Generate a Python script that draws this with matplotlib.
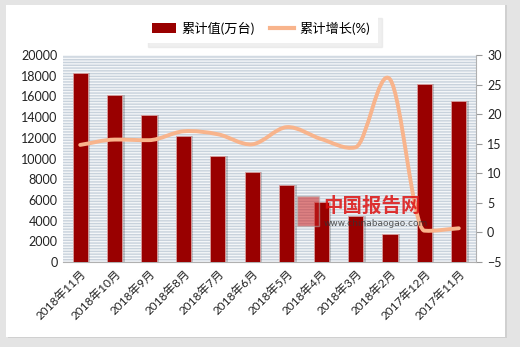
import matplotlib
matplotlib.use("Agg")
import matplotlib.pyplot as plt
from matplotlib.path import Path
from matplotlib.patches import PathPatch, Rectangle, Patch
from matplotlib.lines import Line2D
import numpy as np

plt.rcParams['font.family'] = ['Lato', 'Noto Sans CJK SC', 'DejaVu Sans']
plt.rcParams['hatch.linewidth'] = 1.0

# data
months = ['2018年11月', '2018年10月', '2018年9月', '2018年8月', '2018年7月', '2018年6月',
          '2018年5月', '2018年4月', '2018年3月', '2018年2月', '2017年12月', '2017年11月']
cum_value = [18250, 16150, 14200, 12150, 10250, 8700, 7400, 5800, 4400, 2700, 17150, 15550]
cum_growth = [14.8, 15.7, 15.6, 17.1, 16.6, 14.9, 17.8, 15.8, 14.4, 25.9, 0.3, 0.7]

bar_color = '#990000'
line_color = '#F8B48C'

fig = plt.figure(figsize=(5.2, 3.47), dpi=100)
fig.patch.set_facecolor('#e4e4e4')
# white card with a soft edge
fig.add_artist(Rectangle((8 / 520, 9 / 347), 499 / 520, 333 / 347, transform=fig.transFigure,
                         facecolor='#d0d0d0', edgecolor='none', zorder=0))
fig.add_artist(Rectangle((6 / 520, 10 / 347), 499 / 520, 332 / 347, transform=fig.transFigure,
                         facecolor='white', edgecolor='none', zorder=0))

ax = fig.add_axes([63 / 520, 1 - 262 / 347, 413 / 520, 207 / 347])
ax.set_facecolor('#f4f6f8')
ax.add_patch(Rectangle((0, 0), 1, 1, transform=ax.transAxes, facecolor='none',
                       edgecolor='#c8d2dc', linewidth=0, hatch='------', zorder=0))

x = np.arange(len(months))
# bar shadow
ax.bar(x + 0.06, cum_value, width=0.46, color='#000000', alpha=0.18, zorder=2)
ax.bar(x, cum_value, width=0.44, color=bar_color, edgecolor='#d9a0a0', linewidth=0.6, zorder=3)

ax.set_xlim(-0.5, len(months) - 0.5)
ax.set_ylim(0, 20000)
ax.set_yticks(range(0, 20001, 2000))
ax.set_xticks(x)
ax.set_xticklabels(months, rotation=45, ha='right', rotation_mode='anchor', fontsize=8.5, color='#222222')
ax.tick_params(axis='y', length=0, labelsize=9, colors='#222222', pad=4)
ax.tick_params(axis='x', length=0, pad=4)
for s in ['left', 'right', 'top']:
    ax.spines[s].set_visible(False)
ax.spines['bottom'].set_color('#b0b0b0')

ax2 = ax.twinx()
ax2.set_ylim(-5, 30)
ax2.set_yticks(range(-5, 31, 5))
ax2.tick_params(axis='y', length=4, direction='out', labelsize=9, colors='#222222', pad=4)
ax2.yaxis.set_tick_params(color='#999999')
for s in ['left', 'top', 'bottom']:
    ax2.spines[s].set_visible(False)
ax2.spines['right'].set_color('#b0b0b0')

# smoothed line like the spreadsheet's smooth curve (tangents limited at turning points)
pts = np.column_stack([x, cum_growth]).astype(float)
n = len(pts)
ys = pts[:, 1]
slopes = np.zeros(n)
for i in range(n):
    lo = max(i - 1, 0)
    hi = min(i + 1, n - 1)
    m = (ys[hi] - ys[lo]) / (hi - lo)
    if 0 < i < n - 1:
        dl = ys[i] - ys[i - 1]
        dr = ys[i + 1] - ys[i]
        if dl * dr < 0:
            lim = min(abs(dl), abs(dr))
            m = np.clip(m, -lim, lim)
    slopes[i] = m
verts = [tuple(pts[0])]
codes = [Path.MOVETO]
for i in range(n - 1):
    p1 = pts[i]
    p2 = pts[i + 1]
    c1 = (p1[0] + 1 / 3, p1[1] + slopes[i] / 3)
    c2 = (p2[0] - 1 / 3, p2[1] - slopes[i + 1] / 3)
    verts += [c1, c2, tuple(p2)]
    codes += [Path.CURVE4] * 3
ax2.add_patch(PathPatch(Path(verts, codes), facecolor='none', edgecolor=line_color,
                        linewidth=2.8, capstyle='round', zorder=5))

# watermark
fig.add_artist(Rectangle((297 / 520, 1 - 226 / 347), 22 / 520, 30 / 347, transform=fig.transFigure,
                         facecolor='#cc2222', edgecolor='#b0b0b0', alpha=0.55, zorder=6))
fig.text(323 / 520, 1 - 206 / 347, '中国报告网', color='#dd1111', fontsize=14, fontweight='bold',
         family=['Noto Sans CJK SC'], alpha=0.85, va='center', zorder=7)
fig.text(324 / 520, 1 - 224 / 347, 'www.chinabaogao.com', color='#333333', fontsize=6.5,
         family=['DejaVu Sans'], alpha=0.8, va='center', zorder=7)

handles = [Patch(facecolor=bar_color, edgecolor='none'),
           Line2D([], [], color=line_color, linewidth=3)]
leg = fig.legend(handles, ['累计值(万台)', '累计增长(%)'], loc='center', ncol=2,
                 bbox_to_anchor=(261 / 520, 1 - 28 / 347), fontsize=9.5, frameon=True,
                 fancybox=False, edgecolor='none', columnspacing=1.2, handlelength=1.8,
                 handletextpad=0.4, borderpad=0.6,
                 shadow={'color': '#e0e0e0', 'ox': 3, 'oy': -3})

fig.savefig('out.png', dpi=100, facecolor=fig.get_facecolor())
